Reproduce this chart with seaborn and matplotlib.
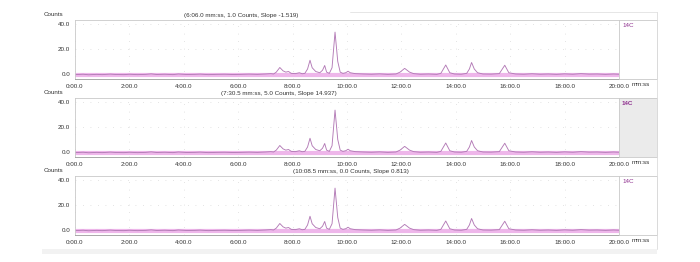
import matplotlib
matplotlib.use("Agg")
import matplotlib.pyplot as plt
from matplotlib.lines import Line2D
from matplotlib.patches import Rectangle
import seaborn as sns
import pandas as pd

# ---- data ----
times = [0.0, 0.3, 0.5, 0.8, 1.0, 1.3, 1.5, 1.8, 2.0, 2.3, 2.6, 2.8, 3.0, 3.3, 3.6, 3.8,
         4.1, 4.4, 4.6, 4.9, 5.2, 5.5, 5.8, 6.1, 6.4, 6.7, 7.0, 7.2, 7.3, 7.4, 7.53, 7.65,
         7.75, 7.85, 7.95, 8.1, 8.25, 8.35, 8.45, 8.55, 8.64, 8.72, 8.85, 9.0, 9.1, 9.18,
         9.25, 9.35, 9.45, 9.56, 9.66, 9.75, 9.85, 9.95, 10.04, 10.12, 10.3, 10.6, 10.9,
         11.2, 11.5, 11.8, 11.95, 12.12, 12.3, 12.45, 12.7, 13.0, 13.3, 13.45, 13.63,
         13.78, 13.95, 14.2, 14.4, 14.5, 14.58, 14.68, 14.8, 15.0, 15.3, 15.6, 15.8,
         15.95, 16.2, 16.5, 16.8, 17.1, 17.4, 17.7, 18.0, 18.3, 18.6, 18.9, 19.2, 19.5,
         19.8, 20.0]
counts = [-0.5, -0.2, -0.6, -0.3, -0.5, -0.1, -0.4, -0.5, -0.2, -0.5, -0.3, 0.1, -0.4, -0.2,
          -0.5, 0.0, -0.4, -0.3, -0.1, -0.5, -0.3, -0.2, -0.4, -0.3, -0.1, -0.3, 0.0, 0.3,
          0.0, 1.5, 5.2, 2.5, 1.5, 2.0, 0.5, 0.3, 1.0, 0.2, 0.5, 4.0, 11.0, 5.0, 2.0, 1.0,
          3.0, 6.8, 1.5, 0.5, 5.0, 33.5, 10.0, 1.5, 0.5, 1.0, 2.2, 1.0, 0.3, 0.0, -0.2,
          0.1, -0.3, 0.0, 1.5, 4.5, 1.5, 0.3, -0.2, 0.0, -0.3, 0.5, 7.2, 1.0, 0.0, -0.2,
          0.5, 4.0, 9.2, 4.0, 1.0, 0.0, -0.1, 0.3, 7.0, 1.0, 0.0, -0.2, 0.2, -0.2, 0.0,
          -0.3, 0.1, -0.2, 0.3, -0.1, 0.0, -0.3, 0.0, -0.2]
baseline_times = [0.0, 20.0]
baseline_counts = [-0.5, -0.5]

cursor_times = [6.1, 7.508, 10.142]
cursor_labels = ["(6:06.0 mm:ss, 1.0 Counts, Slope -1.519)",
                 "(7:30.5 mm:ss, 5.0 Counts, Slope 14.937)",
                 "(10:08.5 mm:ss, 0.0 Counts, Slope 0.813)"]
channel_label = "14C"
y_ticks = [0, 20, 40]
x_major = [0, 2, 4, 6, 8, 10, 12, 14, 16, 18, 20]
x_minor = list(range(0, 21))

trace = pd.DataFrame({"time": times, "counts": counts})
base = pd.DataFrame({"time": baseline_times, "counts": baseline_counts})

sns.set_theme(style="white")
plt.rcParams["font.family"] = ["Liberation Sans", "DejaVu Sans"]

W, H = 700, 262
fig = plt.figure(figsize=(7.0, 2.62), dpi=100)
fig.patch.set_facecolor("white")


def rect(l, t, r, b):
    return [l / W, 1 - b / H, (r - l) / W, (b - t) / H]


def fmt(v):
    m = int(v)
    s = (v - m) * 60
    return f"{m}:{s:04.1f}"


panels = [(20, 79), (98, 157), (176, 235)]
frame_col = "#c9c9c9"
fs = 4.5

for i, (top, bot) in enumerate(panels):
    ax = fig.add_axes(rect(75, top, 619, bot))
    sns.lineplot(data=base, x="time", y="counts", ax=ax, color="#eeb6ea", lw=3.0)
    sns.lineplot(data=trace, x="time", y="counts", ax=ax, color="#b37ab6", lw=0.65)
    ax.set_xlim(0, 20)
    ax.set_ylim(-4, 43.2)
    ax.set_xlabel("")
    ax.set_ylabel("")
    ax.set_xticks(x_major)
    ax.set_xticks(x_minor, minor=True)
    ax.set_xticklabels([fmt(v) for v in x_major])
    ax.set_yticks(y_ticks)
    ax.set_yticklabels([f"{v:.1f}" for v in y_ticks])
    ax.tick_params(axis="both", which="both", direction="out", length=2, width=0.5,
                   color="#888888", labelsize=fs, labelcolor="#333333", pad=1.5)
    ax.tick_params(axis="x", which="minor", length=1.5)
    ax.grid(True, which="major", color="#dadada", ls=(0, (1, 8)), lw=0.6)
    for sp in ax.spines.values():
        sp.set_color(frame_col)
        sp.set_linewidth(0.6)
    ax.spines["bottom"].set_color("#9a9a9a")

    # side box
    sax = fig.add_axes(rect(619, top, 657, bot))
    sax.set_xticks([])
    sax.set_yticks([])
    sax.set_facecolor("#ebebeb" if i == 1 else "white")
    for sp in sax.spines.values():
        sp.set_color(frame_col)
        sp.set_linewidth(0.6)
    sax.text(0.08, 0.95, channel_label, transform=sax.transAxes, ha="left", va="top",
             fontsize=fs, color="#8e2f8e", fontweight="bold" if i == 1 else "normal")

    # texts
    fig.text(44 / W, 1 - (top - 5) / H, "Counts", ha="left", va="center",
             fontsize=fs, color="#333333")
    ax.text(cursor_times[i], 43.2 + 5 / 1.25, cursor_labels[i], ha="center", va="center",
            fontsize=fs, color="#333333", clip_on=False)
    fig.text(632 / W, 1 - (bot + 6) / H, "mm:ss", ha="left", va="center",
             fontsize=fs, color="#333333")

# outer frame lines
fig.add_artist(Line2D([350 / W, 657 / W], [1 - 12 / H, 1 - 12 / H],
                      color="#e2e2e2", lw=0.6))
fig.add_artist(Line2D([657 / W, 657 / W], [1 - 12 / H, 1 - 249 / H],
                      color="#dcdcdc", lw=0.6))
fig.add_artist(Rectangle((42 / W, 1 - 254 / H), (657 - 42) / W, 5 / H,
                         transform=fig.transFigure, color="#f2f2f2", lw=0))

fig.savefig("out.png", dpi=100, facecolor="white")
